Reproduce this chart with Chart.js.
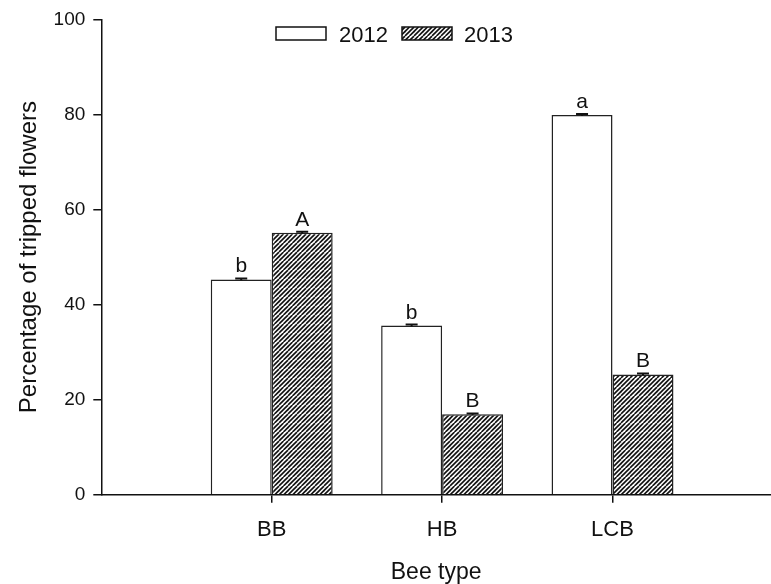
<!DOCTYPE html>
<html>
<head>
<meta charset="utf-8">
<script src="https://cdn.jsdelivr.net/npm/chart.js@4.4.1/dist/chart.umd.min.js"></script>
<style>
  html, body { margin: 0; padding: 0; background: #fff; overflow: hidden; }
  #wrap { width: 771px; height: 584px; }
</style>
</head>
<body>
<div id="wrap"><canvas id="c" width="771" height="584"></canvas></div>
<script>
// ---- data ----
const categories = ['BB', 'HB', 'LCB'];
const seriesNames = ['2012', '2013'];
const values2012 = [45.3, 35.6, 79.9];
const values2013 = [55.1, 16.9, 25.3];
const errors2012 = [0.2, 0.2, 0.2];
const errors2013 = [0.2, 0.2, 0.2];
const letters2012 = ['b', 'b', 'a'];
const letters2013 = ['A', 'B', 'B'];
const yTicks = [0, 20, 40, 60, 80, 100];
const xTitle = 'Bee type';
const yTitle = 'Percentage of tripped flowers';

const FONT = "'Liberation Sans', Arial, sans-serif";

function makeHatch() {
  const s = 9;
  const c = document.createElement('canvas');
  c.width = s; c.height = s;
  const g = c.getContext('2d');
  g.fillStyle = '#fff';
  g.fillRect(0, 0, s, s);
  g.strokeStyle = '#111';
  g.lineWidth = 1.6;
  [-s, -s / 2, 0, s / 2, s].forEach(k => {
    g.beginPath();
    g.moveTo(k, s);
    g.lineTo(k + s, 0);
    g.stroke();
  });
  return g.createPattern(c, 'repeat');
}
const hatch = makeHatch();

const xPositions = categories.map((_, i) => i + 1);
const toPoints = vals => vals.map((v, i) => ({ x: xPositions[i], y: v }));

const annotPlugin = {
  id: 'annot',
  afterDatasetsDraw(chart) {
    const ctx = chart.ctx;
    const ys = chart.scales.y;
    ctx.save();
    chart.data.datasets.forEach((ds, di) => {
      const meta = chart.getDatasetMeta(di);
      meta.data.forEach((bar, i) => {
        const v = ds.data[i].y;
        const e = ds.errors[i];
        const yTop = ys.getPixelForValue(v + e);
        const yBot = ys.getPixelForValue(v - e);
        ctx.strokeStyle = '#111';
        ctx.lineWidth = 2;
        ctx.beginPath();
        ctx.moveTo(bar.x, yTop); ctx.lineTo(bar.x, yBot);
        ctx.moveTo(bar.x - 6, yTop); ctx.lineTo(bar.x + 6, yTop);
        ctx.stroke();
        ctx.fillStyle = '#111';
        ctx.font = '21px ' + FONT;
        ctx.textAlign = 'center';
        ctx.textBaseline = 'alphabetic';
        ctx.fillText(ds.letters[i], bar.x, yTop - 6);
      });
    });
    // legend
    const items = [
      { x: 276, tx: 339, ds: chart.data.datasets[0] },
      { x: 402, tx: 464, ds: chart.data.datasets[1] }
    ];
    items.forEach(it => {
      ctx.fillStyle = it.ds.backgroundColor;
      ctx.fillRect(it.x, 27, 50, 13);
      ctx.strokeStyle = '#111';
      ctx.lineWidth = 1.5;
      ctx.strokeRect(it.x, 27, 50, 13);
      ctx.fillStyle = '#111';
      ctx.font = '22px ' + FONT;
      ctx.textAlign = 'left';
      ctx.textBaseline = 'alphabetic';
      ctx.fillText(it.ds.label, it.tx, 41.5);
    });
    ctx.restore();
  }
};

new Chart(document.getElementById('c'), {
  type: 'bar',
  data: {
    datasets: [
      { label: seriesNames[0], data: toPoints(values2012), errors: errors2012, letters: letters2012,
        backgroundColor: '#ffffff', borderColor: '#222', borderWidth: 1.5 },
      { label: seriesNames[1], data: toPoints(values2013), errors: errors2013, letters: letters2013,
        backgroundColor: hatch, borderColor: '#222', borderWidth: 1.5 }
    ]
  },
  options: {
    responsive: false,
    animation: false,
    devicePixelRatio: 1,
    categoryPercentage: 0.7155,
    barPercentage: 1,
    layout: { padding: { top: 18, left: 0, right: 0, bottom: 0 } },
    plugins: { legend: { display: false }, tooltip: { enabled: false } },
    scales: {
      x: {
        type: 'linear',
        offset: false,
        min: 0,
        max: 3.93,
        afterBuildTicks(s) { s.ticks = xPositions.map(v => ({ value: v })); },
        afterFit(s) { s.height = 89.3; },
        ticks: {
          autoSkip: false, maxRotation: 0, minRotation: 0, padding: 14,
          color: '#111', font: { family: FONT, size: 22 },
          callback: (v, i) => categories[i]
        },
        grid: { offset: false, drawOnChartArea: false, drawTicks: true, tickLength: 8, color: '#111', lineWidth: 1.5 },
        border: { display: true, color: '#111', width: 1.5 },
        title: { display: true, text: xTitle, color: '#111', font: { family: FONT, size: 23 }, padding: { top: 0, bottom: -2 } }
      },
      y: {
        min: 0,
        max: 100,
        afterBuildTicks(s) { s.ticks = yTicks.map(v => ({ value: v })); },
        afterFit(s) { s.width = 101.3; },
        ticks: { padding: 8, color: '#111', font: { family: FONT, size: 19 } },
        grid: { drawOnChartArea: false, drawTicks: true, tickLength: 8, color: '#111', lineWidth: 1.5 },
        border: { display: true, color: '#111', width: 1.5 },
        title: { display: true, text: yTitle, color: '#111', font: { family: FONT, size: 24 }, padding: { top: 15, bottom: 0 } }
      }
    }
  },
  plugins: [annotPlugin]
});
</script>
</body>
</html>
